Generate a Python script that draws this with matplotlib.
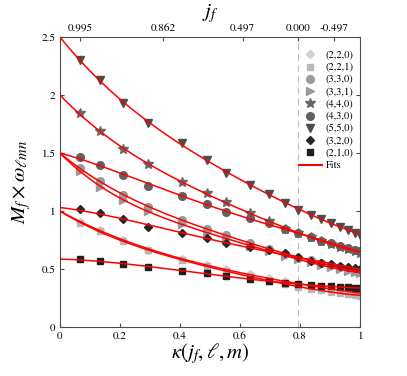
import numpy as np
import matplotlib
matplotlib.use("Agg")
import matplotlib.pyplot as plt

plt.rcParams["font.family"] = ["STIXGeneral", "DejaVu Serif"]
plt.rcParams["mathtext.fontset"] = "stix"

# kappa of the sampled spins (same for every mode)
kappa = [0.067, 0.134, 0.211, 0.295, 0.407, 0.491, 0.553, 0.632, 0.695,
         0.748, 0.794, 0.835, 0.871, 0.903, 0.933, 0.960, 0.984, 0.999]

w220 = [0.908, 0.836, 0.752, 0.668, 0.586, 0.535, 0.497, 0.454, 0.420,
        0.393, 0.374, 0.356, 0.341, 0.328, 0.317, 0.307, 0.298, 0.293]
w221 = [0.895, 0.825, 0.740, 0.660, 0.578, 0.524, 0.483, 0.436, 0.399,
        0.368, 0.347, 0.330, 0.316, 0.304, 0.293, 0.284, 0.276, 0.272]
w330 = [1.368, 1.255, 1.139, 1.037, 0.922, 0.848, 0.791, 0.726, 0.673,
        0.629, 0.599, 0.575, 0.553, 0.533, 0.515, 0.499, 0.485, 0.477]
w331 = [1.346, 1.207, 1.095, 0.997, 0.888, 0.817, 0.763, 0.701, 0.652,
        0.610, 0.583, 0.558, 0.537, 0.518, 0.501, 0.486, 0.473, 0.465]
w440 = [1.842, 1.690, 1.531, 1.402, 1.251, 1.151, 1.074, 0.983, 0.910,
        0.848, 0.809, 0.775, 0.745, 0.718, 0.694, 0.672, 0.652, 0.640]
w430 = [1.468, 1.400, 1.310, 1.218, 1.129, 1.058, 0.994, 0.937, 0.893,
        0.848, 0.808, 0.772, 0.745, 0.722, 0.700, 0.682, 0.665, 0.655]
w550 = [2.300, 2.125, 1.934, 1.755, 1.583, 1.440, 1.330, 1.225, 1.147,
        1.072, 1.012, 0.968, 0.930, 0.897, 0.866, 0.838, 0.812, 0.795]
w320 = [1.015, 0.986, 0.931, 0.865, 0.808, 0.765, 0.721, 0.687, 0.664,
        0.635, 0.600, 0.572, 0.553, 0.540, 0.530, 0.520, 0.510, 0.503]
w210 = [0.584, 0.570, 0.545, 0.515, 0.485, 0.462, 0.440, 0.415, 0.395,
        0.380, 0.370, 0.362, 0.356, 0.350, 0.346, 0.342, 0.339, 0.337]

# where the fit curves start at kappa = 0 (extremal limit)
w_kappa0 = [1.0, 1.0, 1.5, 1.5, 2.0, 1.5, 2.5, 1.03, 0.586]

modes = ["(2,2,0)", "(2,2,1)", "(3,3,0)", "(3,3,1)", "(4,4,0)",
         "(4,3,0)", "(5,5,0)", "(3,2,0)", "(2,1,0)"]
values = [w220, w221, w330, w331, w440, w430, w550, w320, w210]
markers = ["D", "s", "o", ">", "*", "o", "v", "D", "s"]
colors = ["0.82", "0.72", "0.6", "0.6", "0.4", "0.38", "0.3", "0.15", "0.12"]
msizes = [4.5, 4.5, 5.5, 5.5, 7, 5.5, 6, 4.5, 5]

spin_ticks = [0.067, 0.343, 0.609, 0.794, 0.912]
spin_labels = ["0.995", "0.862", "0.497", "0.000", "-0.497"]

fig = plt.figure(figsize=(4.07, 3.76), dpi=100)
ax = fig.add_axes([0.147, 0.130, 0.738, 0.772])

ax.axvline(0.794, color="0.75", ls=(0, (6, 4)), lw=0.8, zorder=1)

k = np.array(kappa)
kk = np.linspace(0, 1, 200)
for name, w, m, c, s in zip(modes, values, markers, colors, msizes):
    ax.plot(k, w, ls="none", marker=m, color=c, markersize=s, label=name,
            zorder=2)
for w, w0 in zip(values, w_kappa0):
    kfit = np.concatenate([[0.0], k])
    wfit = np.concatenate([[w0], w])
    wt = np.ones(len(kfit))
    wt[0] = 5.0
    coef = np.polyfit(kfit, wfit, 4, w=wt)
    ax.plot(kk, np.polyval(coef, kk), color="red", lw=1.1, zorder=3)
ax.plot([], [], color="red", lw=1.5, label="Fits")

ax.set_xlim(0, 1)
ax.set_ylim(0, 2.5)
ax.set_xticks([0, 0.2, 0.4, 0.6, 0.8, 1])
ax.set_xticklabels(["0", "0.2", "0.4", "0.6", "0.8", "1"])
ax.set_yticks([0, 0.5, 1, 1.5, 2, 2.5])
ax.set_yticklabels(["0", "0.5", "1", "1.5", "2", "2.5"])
ax.tick_params(direction="in", right=True, top=False, labelsize=8,
               length=3, color="0.3", pad=3)
for sp in ax.spines.values():
    sp.set_color("0.3")
    sp.set_linewidth(0.8)

ax.set_xlabel(r"$\kappa(j_f,\ell,m)$", fontsize=15, labelpad=0)
ax.set_ylabel(r"$M_f\times\omega_{\ell mn}$", fontsize=15, labelpad=6)

top = ax.twiny()
top.set_xlim(0, 1)
top.set_xticks(spin_ticks)
top.set_xticklabels(spin_labels)
top.tick_params(direction="in", labelsize=8, length=3, color="0.3", pad=3)
top.set_xlabel(r"$j_f$", fontsize=15, labelpad=4)
for sp in top.spines.values():
    sp.set_visible(False)

leg = ax.legend(loc="upper right", bbox_to_anchor=(1.0, 0.975),
                frameon=False, fontsize=7.5, handlelength=2.2,
                labelspacing=0.25, handletextpad=0.4, borderaxespad=0.2)

fig.savefig("out.png", dpi=100)
